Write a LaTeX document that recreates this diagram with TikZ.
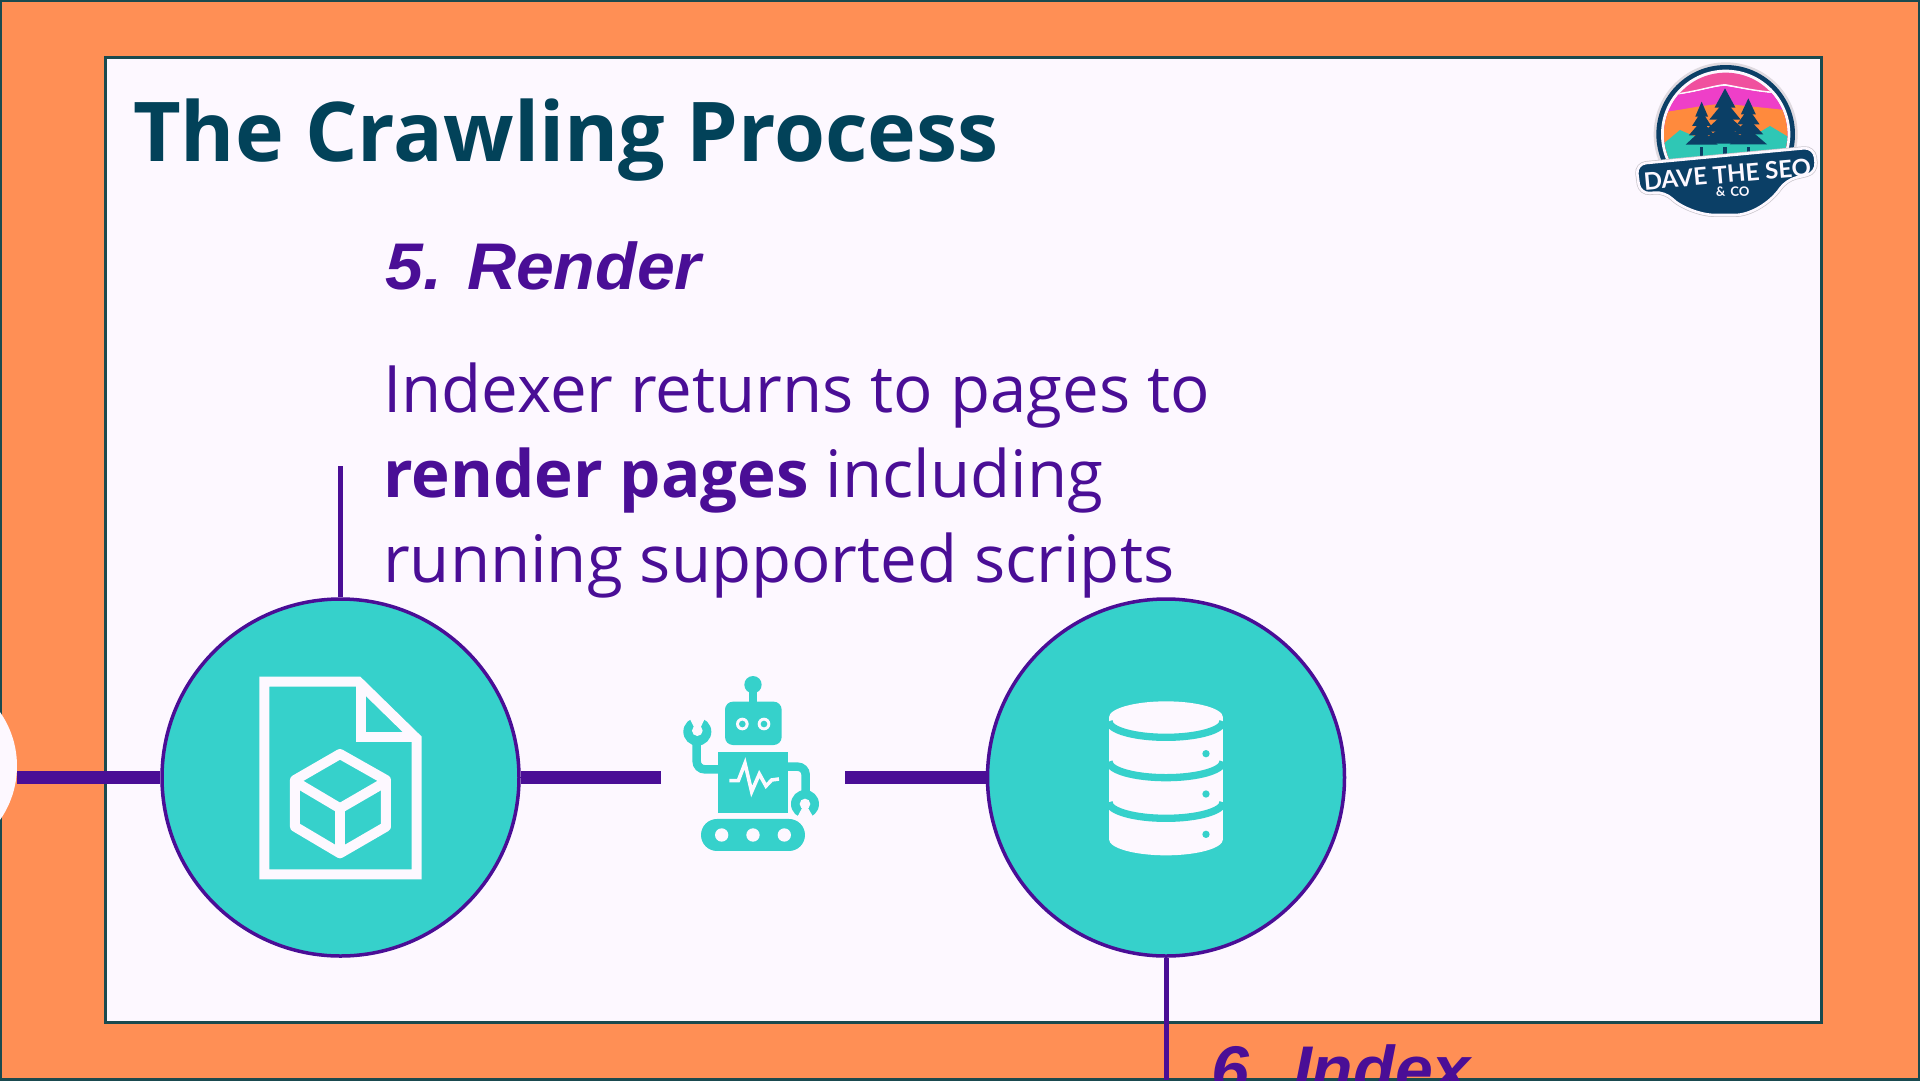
\documentclass[tikz,border=0pt]{standalone}
\usepackage{fontspec}
\setmainfont{Open Sans}
\newfontfamily\logofont{Lato}
\newfontfamily\headfont[FakeStretch=1.03]{Liberation Sans}
\usetikzlibrary{positioning}
\definecolor{pageOrange}{HTML}{FF8F55}
\definecolor{panelWhite}{HTML}{FDF8FF}
\definecolor{frameDark}{HTML}{1A4A4F}
\definecolor{titleTeal}{HTML}{024259}
\definecolor{flowPurple}{HTML}{4A0E96}
\definecolor{iconTeal}{HTML}{36D1CB}
\definecolor{logoNavy}{HTML}{0B3F66}
\definecolor{logoPink}{HTML}{F0509E}
\definecolor{logoMagenta}{HTML}{EE3FC8}
\definecolor{logoOrange}{HTML}{FF8A3D}
\definecolor{logoTeal}{HTML}{2FC7B5}
\begin{document}
\begin{tikzpicture}[
    x=1pt,y=-1pt,
    stepcircle/.style={circle,draw=flowPurple,line width=3.5pt,fill=iconTeal,minimum size=357pt,inner sep=0pt},
    flowline/.style={draw=flowPurple,line width=13pt},
    stemline/.style={draw=flowPurple,line width=5pt},
    steptitle/.style={anchor=base west,inner sep=0pt,text=flowPurple,font=\headfont\fontsize{66}{70}\selectfont\bfseries\itshape},
    stepbody/.style={anchor=base west,inner sep=0pt,text=flowPurple,font=\fontsize{65.4}{85}\selectfont},
    iconline/.style={draw=panelWhite,line width=10pt,line join=round},
    robotfill/.style={fill=iconTeal,draw=none},
    robotcut/.style={fill=panelWhite,draw=none},
    robotarm/.style={draw=iconTeal,line width=8.5pt,rounded corners=8pt},
    logotext/.style={inner sep=0pt,text=panelWhite,font=\logofont\bfseries}
  ]
  \clip (0,0) rectangle (1920,1080);
  % slide frame
  \fill[pageOrange] (0,0) rectangle (1920,1080);
  \draw[frameDark,line width=4pt] (0,0) rectangle (1920,1080);
  \draw[frameDark,line width=3pt,fill=panelWhite] (105,57) rectangle (1821,1022);

  \node[anchor=base west,inner sep=0pt,text=titleTeal,font=\fontsize{82.5}{90}\selectfont\bfseries] (title) at (133,161) {The Crawling Process};

  % steps
  \node[circle,fill=panelWhite,minimum size=188pt,inner sep=0pt] (startdot) at (-77,766) {};
  \node[stepcircle] (rendercircle) at (340.5,777.5) {};
  \node[stepcircle,right=465pt of rendercircle] (dbcircle) {};
  \node[minimum width=184pt,minimum height=20pt,inner sep=0pt,right=140.25pt of rendercircle] (robotslot) {};
  \coordinate (stemtop) at (340.5,466);
  \coordinate (stembottom) at (1166,1080);

  \draw[flowline] (startdot.east |- rendercircle.west) -- (rendercircle.west);
  \draw[flowline] (rendercircle.east) -- (robotslot.west);
  \draw[flowline] (robotslot.east) -- (dbcircle.west);
  \draw[stemline] (stemtop) -- (rendercircle.north);
  \draw[stemline] (dbcircle.south) -- (stembottom);

  \node[steptitle] (rendertitle) at (385,289) {5. Render};
  \node[stepbody] (renderline1) at (383,412) {Indexer returns to pages to};
  \node[stepbody] (renderline2) at (383,497) {\textbf{render pages} including};
  \node[stepbody] (renderline3) at (383,582) {running supported scripts};
  \node[steptitle] (indextitle) at (1211,1092) {6. Index};

  % page icon
  \begin{scope}[shift={(150,590)},x=0.3333pt,y=-0.3333pt]
    \draw[iconline,line join=miter] (343,275) -- (625,275) -- (800,446) -- (800,853) -- (343,853) -- cycle;
    \draw[iconline,line join=miter] (632,275) -- (632,441) -- (800,441);
    \draw[iconline] (570,492) -- (708,570) -- (708,710) -- (570,790) -- (435,710) -- (435,570) -- cycle;
    \draw[iconline] (435,575) -- (570,655) -- (708,575);
    \draw[iconline] (570,655) -- (570,790);
  \end{scope}

  % database icon
  \begin{scope}[shift={(1080,680)},x=0.3333pt,y=-0.3333pt]
    \fill[panelWhite] (87,112) -- (87,478) arc[start angle=180,end angle=0,x radius=171,y radius=48] -- (429,112) arc[start angle=0,end angle=-180,x radius=171,y radius=48] -- cycle;
    \foreach \bandy in {124,245,367}
      \draw[iconTeal,line width=7.3pt] (87,\bandy) arc[start angle=180,end angle=0,x radius=171,y radius=48];
    \foreach \doty in {221,342,463}
      \fill[iconTeal] (378,\doty) circle[radius=11];
  \end{scope}

  % robot icon
  \begin{scope}[shift={(660,660)},x=0.3333pt,y=-0.3333pt]
    \fill[robotfill] (279,74) circle[radius=26];
    \fill[robotfill] (268,95) rectangle (292,130);
    \fill[robotfill,rounded corners=8pt] (195,125) rectangle (365,255);
    \foreach \eyex in {247,312} {
      \fill[robotcut] (\eyex,192) circle[radius=19];
      \fill[robotfill] (\eyex,192) circle[radius=10];
    }
    \draw[robotarm] (180,328) -- (110,328) -- (110,235);
    \draw[robotarm] (380,320) -- (437,320) -- (437,410);
    \fill[robotfill] (112,215) circle[radius=42];
    \fill[robotcut] (112,222) -- (84,165) -- (140,165) -- cycle;
    \fill[robotcut] (112,212) circle[radius=16];
    \fill[robotfill] (435,432) circle[radius=42];
    \fill[robotcut] (435,428) -- (406,482) -- (466,482) -- cycle;
    \fill[robotcut] (435,432) circle[radius=16];
    \fill[robotfill] (175,275) rectangle (385,458);
    \draw[panelWhite,line width=3.6pt,line join=miter] (208,362) -- (235,362) -- (255,310) -- (275,395) -- (298,342) -- (318,378) -- (335,360) -- (357,357);
    \fill[robotfill,rounded corners=16pt] (123,477) rectangle (435,573);
    \foreach \wheelx in {185,279,373}
      \fill[robotcut] (\wheelx,525) circle[radius=20];
  \end{scope}

  % logo badge
  \begin{scope}[shift={(1620,40)},x=0.3333pt,y=-0.3333pt]
    \fill[panelWhite!88!black] (317,283) circle[radius=216];
    \fill[logoNavy] (317,283) circle[radius=208];
    \fill[panelWhite] (317,283) circle[radius=194];
    \begin{scope}
      \clip (317,283) circle[radius=185];
      \fill[logoPink] (120,90) rectangle (520,480);
      \fill[panelWhite] (170,160) .. controls (240,150) and (280,135) .. (315,132) .. controls (360,140) and (400,150) .. (460,155) -- (460,160) .. controls (400,155) and (360,145) .. (315,138) .. controls (280,140) and (240,155) .. (170,165) -- cycle;
      \fill[logoMagenta] (120,220) -- (170,165) .. controls (240,155) and (280,140) .. (315,138) .. controls (360,145) and (400,155) .. (460,160) -- (520,215) -- (520,480) -- (120,480) -- cycle;
      \fill[logoOrange] (120,218) .. controls (200,208) and (260,192) .. (315,192) .. controls (380,197) and (440,205) .. (520,212) -- (520,480) -- (120,480) -- cycle;
      \fill[logoTeal] (120,320) -- (180,270) -- (260,305) -- (380,300) -- (450,258) -- (520,300) -- (520,480) -- (120,480) -- cycle;
      \foreach \treex/\treetop/\treew in {245/185/48,315/145/78,385/175/56} {
        \foreach \tier in {0,1,2,3}
          \fill[logoNavy] (\treex,{\treetop+\tier*(325-\treetop)*0.2}) -- ({\treex-\treew*(0.4+\tier*0.2)},{\treetop+(\tier+1.6)*(325-\treetop)*0.2}) -- ({\treex+\treew*(0.4+\tier*0.2)},{\treetop+(\tier+1.6)*(325-\treetop)*0.2}) -- cycle;
        \fill[logoNavy] ({\treex-5},320) rectangle ({\treex+5},350);
      }
    \end{scope}
    \path[preaction={draw=panelWhite!80!black,line width=4pt},draw=panelWhite,line width=2.6pt,fill=logoNavy,rounded corners=10pt] (48,372) -- (582,322) -- (590,398) -- (498,420) .. controls (450,490) and (390,525) .. (315,525) .. controls (240,525) and (180,500) .. (135,455) -- (60,462) -- cycle;
    \node[logotext,font=\logofont\bfseries\fontsize{24}{25}\selectfont,rotate=5] (logoname) at (322,403) {DAVE THE SEO};
    \node[logotext,font=\logofont\bfseries\fontsize{13}{14}\selectfont,rotate=2] (logoco) at (338,455) {\& \hspace{2pt}CO};
  \end{scope}
\end{tikzpicture}
\end{document}
